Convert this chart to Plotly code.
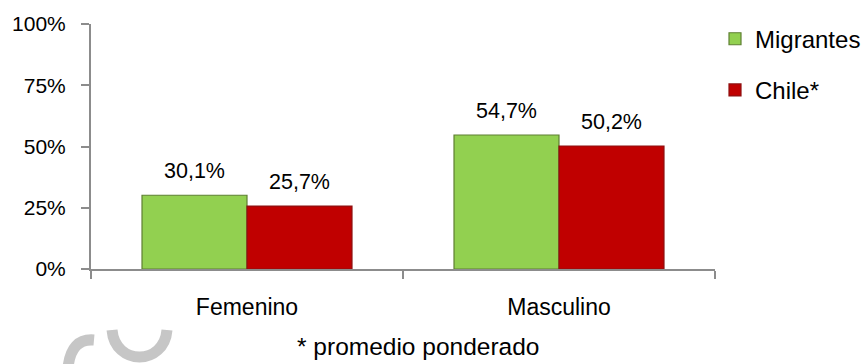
import plotly.graph_objects as go

# Porcentaje por sexo: migrantes vs. promedio ponderado de Chile
categories = ["Femenino", "Masculino"]
migrantes = [0.301, 0.547]
chile = [0.257, 0.502]
series_names = ["Migrantes", "Chile*"]
y_ticks = [0, 0.25, 0.5, 0.75, 1.0]
y_tick_labels = ["0%", "25%", "50%", "75%", "100%"]
footnote = "* promedio ponderado"

FONT = "Liberation Sans, Arial, sans-serif"
AXIS_GRAY = "#8c8c8c"
BARGAP = 0.327

# Área de trazado en píxeles (para ubicar la marca de agua en coordenadas de papel)
W, H = 865, 364
L, R, T, B = 91, 150, 24, 95
PW, PH = W - L - R, H - T - B


def pct(v):
    return f"{v * 100:.1f}%".replace(".", ",")


def px(x, y):
    return (x - L) / PW, (H - B - y) / PH


fig = go.Figure()
fig.add_trace(go.Bar(
    name=series_names[0], x=categories, y=migrantes,
    marker=dict(color="#92D050", line=dict(color="#5E7F32", width=1.2)),
    legendgroup="a",
))
fig.add_trace(go.Bar(
    name=series_names[1], x=categories, y=chile,
    marker=dict(color="#C00000", line=dict(color="#8E1010", width=1.2)),
    legendgroup="b",
))

# Etiquetas de valor sobre cada barra
half = (1 - BARGAP) / 4
for i, cat in enumerate(categories):
    for off, vals in ((-half, migrantes), (half, chile)):
        fig.add_annotation(
            x=i + off, y=vals[i], xref="x", yref="y",
            text=pct(vals[i]), showarrow=False,
            yanchor="bottom", yshift=10,
            font=dict(family=FONT, size=21.5, color="#000000"),
        )

fig.add_annotation(
    x=0.524, y=-0.378, xref="paper", yref="paper",
    text=footnote, showarrow=False, xanchor="center", yanchor="bottom",
    font=dict(family=FONT, size=24.5, color="#000000"),
)

# Marca de agua tenue (trazos grises) en la esquina inferior izquierda
def path(pts_cmd):
    out = []
    for cmd, coords in pts_cmd:
        pts = [px(*c) for c in coords]
        out.append(cmd + " ".join(f"{a:.4f},{b:.4f}" for a, b in pts))
    return " ".join(out)


wm_u = path([("M", [(112, 330)]), ("C", [(115, 366), (164, 366), (167, 330)])])
wm_s = path([("M", [(94, 340)]), ("Q", [(71, 338), (68, 368)])])
for p in (wm_u, wm_s):
    fig.add_shape(
        type="path", path=p, xref="paper", yref="paper",
        line=dict(color="#c6c6c6", width=11), layer="below",
    )

fig.update_layout(
    width=W, height=H,
    margin=dict(l=L, r=R, t=T, b=B, autoexpand=False),
    paper_bgcolor="white", plot_bgcolor="white",
    barmode="group", bargap=BARGAP, bargroupgap=0,
    font=dict(family=FONT, size=21, color="#000000"),
    legend=dict(
        x=1.0, y=1.03, xanchor="left", yanchor="top",
        font=dict(family=FONT, size=24),
        tracegroupgap=17, traceorder="grouped",
        itemwidth=30, bgcolor="rgba(0,0,0,0)",
    ),
    xaxis=dict(
        automargin=False,
        showline=True, linecolor=AXIS_GRAY, linewidth=2,
        ticks="outside", tickson="boundaries", ticklen=8, tickcolor=AXIS_GRAY, tickwidth=2,
        tickfont=dict(family=FONT, size=23), ticklabelstandoff=16,
        showgrid=False, zeroline=False,
    ),
    yaxis=dict(
        automargin=False,
        range=[0, 1], tickvals=y_ticks, ticktext=y_tick_labels,
        showline=True, linecolor=AXIS_GRAY, linewidth=2,
        ticks="outside", ticklen=8, tickcolor=AXIS_GRAY, tickwidth=2,
        tickfont=dict(family=FONT, size=21), ticklabelstandoff=11,
        showgrid=False, zeroline=False,
    ),
)

fig.write_html("out.html")
